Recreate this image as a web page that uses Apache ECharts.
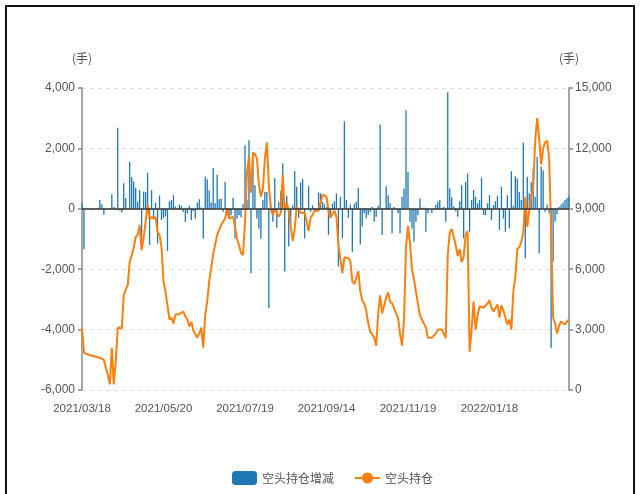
<!DOCTYPE html>
<html><head><meta charset="utf-8">
<script src="https://cdn.jsdelivr.net/npm/echarts@6/dist/echarts.min.js"></script>
<style>
html,body{margin:0;padding:0;background:#fff;}
#c{position:absolute;left:0;top:0;width:640px;height:494px;}
#frame{position:absolute;left:5px;top:5px;width:630px;height:510px;border:2px solid #111;box-sizing:border-box;pointer-events:none;}
</style>
</head><body><div id="c"></div><div id="frame"></div>
<script>
// Exchange holidays (weekdays without trading) in the period
const holidays = ['2021-04-05','2021-05-03','2021-05-04','2021-05-05','2021-06-14','2021-09-20','2021-09-21',
  '2021-10-01','2021-10-04','2021-10-05','2021-10-06','2021-10-07','2022-01-03','2022-01-31','2022-02-01',
  '2022-02-02','2022-02-03','2022-02-04'];
const startDate = '2021-03-18';

// 空头持仓增减 (left axis)
const changeValues = [
180,-1340,20,-10,15,-20,10,-15,20,290,
150,-200,20,-10,30,480,60,-30,2680,-60,
-120,850,360,30,1550,1050,900,690,230,
615,-1180,570,560,1190,-1200,615,-320,200,-1150,
440,-370,-300,-250,-1400,250,290,450,80,30,
140,100,-100,-430,-150,100,-370,-80,-320,
210,320,40,-980,1060,980,615,210,1350,180,
1130,320,340,-100,890,-210,-320,-210,360,-980,
-320,-210,-280,150,2100,300,2270,-2130,1660,780,
-320,-650,-980,290,560,560,-3290,150,-430,1020,
-630,230,580,1500,-2080,430,-1250,-540,120,
1240,730,-300,870,980,-980,30,750,-100,120,
30,-100,540,510,230,150,50,-860,-200,170,
250,510,-1910,400,-980,2900,290,-300,140,-1420,
170,230,690,-1180,-590,-150,-320,-200,-100,
60,-430,-260,100,2780,-870,10,750,450,180,
-810,60,30,-150,-810,400,670,3260,1220,-430,
-650,-1090,-430,-210,340,30,40,-760,-150,10,
-150,10,130,230,290,30,60,-430,3860,
670,380,80,-80,-260,250,780,-980,890,1170,
-760,290,620,400,180,290,1030,-210,-210,180,
450,-370,120,250,430,-700,730,-320,-760,
450,-650,1240,100,1080,1000,560,290,2190,-1640,
1060,510,890,1330,400,1720,-1470,1390,1280,-100,
140,-150,-4600,-1750,-430,-190,60,140,210,290,
360,400];

// 空头持仓 (right axis)
const positionValues = [
3050,1850,1800,1760,1720,1700,1680,1650,1620,1600,
1580,1500,1100,750,280,2100,280,1450,3100,3050,
3050,4700,5000,5200,6350,6700,7050,7600,7700,
8200,6950,7550,8350,9200,8500,8600,8500,8600,7850,
7700,7100,5400,4900,4200,3500,3600,3300,3750,3750,
3780,3820,3900,3650,3500,3150,3380,2950,3000,
2600,2830,3100,2100,3750,4400,5400,5480,6750,6750,
7700,7950,8200,8280,8520,9020,8520,8480,8600,8100,
7500,7200,6800,6700,8300,10800,11600,9800,11800,11700,
11500,10200,9600,10000,11500,12300,10200,9000,8700,9000,
8800,8600,8800,10700,8900,9300,8900,8100,7400,
8000,9100,9130,8800,8800,8800,8400,7900,8550,8700,
8900,8970,8900,9300,9700,9680,9600,8900,8550,8750,
8900,8600,7200,7200,5800,6600,6600,6550,6400,5400,
5250,5600,5900,4900,4450,4300,3950,3300,2900,
2750,2600,2200,3800,4700,3800,4200,4600,4850,4400,
4300,4300,3800,3600,2800,2200,3500,7100,8150,7300,
6000,5500,4900,4300,3700,3500,3480,3100,2600,2600,
2600,2650,2800,3000,3040,3000,2800,2580,6700,
7800,8000,8000,7200,6650,7000,6350,6600,7700,7900,
1900,3000,4400,3000,3700,4150,4200,4100,4100,4300,
4450,4100,3900,3950,4250,3600,4200,3950,3600,
3250,3500,3000,4900,5600,7000,7100,7350,7800,9600,
8100,8900,9600,10000,12400,13500,12500,11200,12000,12300,
12400,11500,8000,3600,3300,2800,3200,3400,3400,3250,
3400,3500];

const leftAxisTicks = {min: -6000, max: 4000, interval: 2000};
const rightAxisTicks = {min: 0, max: 15000, interval: 3000};
const seriesNames = ['空头持仓增减', '空头持仓'];
const unitName = '(手)';

// build trading-day categories
const categories = [];
(function () {
  const hol = new Set(holidays);
  const d = new Date(startDate + 'T00:00:00Z');
  while (categories.length < changeValues.length) {
    const wd = d.getUTCDay();
    const y = d.getUTCFullYear(), m = String(d.getUTCMonth() + 1).padStart(2, '0'), dd = String(d.getUTCDate()).padStart(2, '0');
    const iso = y + '-' + m + '-' + dd;
    if (wd !== 0 && wd !== 6 && !hol.has(iso)) categories.push(y + '/' + m + '/' + dd);
    d.setUTCDate(d.getUTCDate() + 1);
  }
})();

const numFont = "'Liberation Sans', Arial, sans-serif";
const cjkFont = "'Noto Sans CJK SC', sans-serif";
const fmt = v => v.toLocaleString('en-US');

const chart = echarts.init(document.getElementById('c'), null, {renderer: 'canvas'});
chart.setOption({
  animation: false,
  backgroundColor: '#fff',
  grid: {left: 82, right: 71, top: 88, bottom: 104, containLabel: false},
  legend: {
    left: 227, top: 466, itemWidth: 25, itemHeight: 14, itemGap: 20,
    textStyle: {color: '#555', fontSize: 12, fontFamily: cjkFont},
    data: [{name: seriesNames[0], icon: 'roundRect'}, {name: seriesNames[1]}]
  },
  xAxis: {
    type: 'category', data: categories, boundaryGap: false,
    axisLine: {show: false}, axisTick: {show: false},
    axisLabel: {interval: 40, color: '#555', fontSize: 11.5, fontFamily: numFont, margin: 13}
  },
  yAxis: [{
    type: 'value', min: leftAxisTicks.min, max: leftAxisTicks.max, interval: leftAxisTicks.interval,
    name: unitName, nameLocation: 'end', nameGap: 24,
    nameTextStyle: {color: '#555', fontSize: 12, fontFamily: cjkFont},
    axisLine: {show: true, lineStyle: {color: '#888', width: 1.5}},
    axisTick: {show: true, length: 4, lineStyle: {color: '#888', width: 1.5}},
    axisLabel: {color: '#555', fontSize: 12, fontFamily: numFont, margin: 7, formatter: fmt},
    splitLine: {show: true, lineStyle: {color: '#ddd', type: [4, 4], width: 1}}
  }, {
    type: 'value', min: rightAxisTicks.min, max: rightAxisTicks.max, interval: rightAxisTicks.interval,
    name: unitName, nameLocation: 'end', nameGap: 24,
    nameTextStyle: {color: '#555', fontSize: 12, fontFamily: cjkFont},
    axisLine: {show: true, lineStyle: {color: '#888', width: 1.5}},
    axisTick: {show: true, length: 4, lineStyle: {color: '#888', width: 1.5}},
    axisLabel: {color: '#555', fontSize: 12, fontFamily: numFont, margin: 6, formatter: fmt},
    splitLine: {show: false}
  }],
  series: [{
    name: seriesNames[0], type: 'bar', yAxisIndex: 0, data: changeValues,
    barWidth: 1.3, itemStyle: {color: '#1f77b4'},
    markLine: {
      silent: true, symbol: ['none', 'none'], label: {show: false},
      lineStyle: {color: '#333', type: 'solid', width: 1.5},
      data: [{yAxis: 0}]
    }
  }, {
    name: seriesNames[1], type: 'line', yAxisIndex: 1, data: positionValues, z: 3,
    symbol: 'circle', symbolSize: 8, showSymbol: false,
    lineStyle: {color: '#ff7f0e', width: 2}, itemStyle: {color: '#ff7f0e'}
  }]
});
</script>
</body></html>
